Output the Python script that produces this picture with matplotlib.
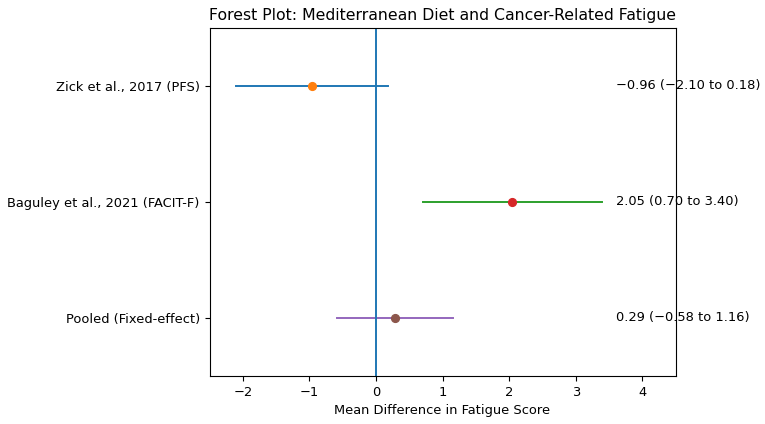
import matplotlib
matplotlib.use('Agg')
import matplotlib.pyplot as plt

# Study data
studies = ['Zick et al., 2017 (PFS)', 'Baguley et al., 2021 (FACIT-F)', 'Pooled (Fixed-effect)']
means = [-0.96, 2.05, 0.29]
lower = [-2.10, 0.70, -0.58]
upper = [0.18, 3.40, 1.16]

plt.rcParams['font.size'] = 9.4

fig = plt.figure(figsize=(7.65, 4.24), dpi=100)
ax = fig.add_axes([0.2739, 0.1132, 0.6092, 0.8208])

ypos = list(range(len(studies)))[::-1]

for i in range(len(studies)):
	ax.plot([lower[i], upper[i]], [ypos[i], ypos[i]], lw=1.4)
	ax.plot(means[i], ypos[i], 'o', ms=5.6)
	label = '%.2f (%.2f to %.2f)' % (means[i], lower[i], upper[i])
	ax.text(max(upper) + 0.2, ypos[i], label.replace('-', '\u2212'), va='center')

ax.axvline(0, lw=1.4)
ax.set_yticks(ypos)
ax.set_yticklabels(studies)
ax.set_xlim(-2.5, 4.5)
ax.set_ylim(-0.5, 2.5)
ax.set_xlabel('Mean Difference in Fatigue Score')
ax.set_title('Forest Plot: Mediterranean Diet and Cancer-Related Fatigue', fontsize=11.3)

plt.savefig('out.png')
